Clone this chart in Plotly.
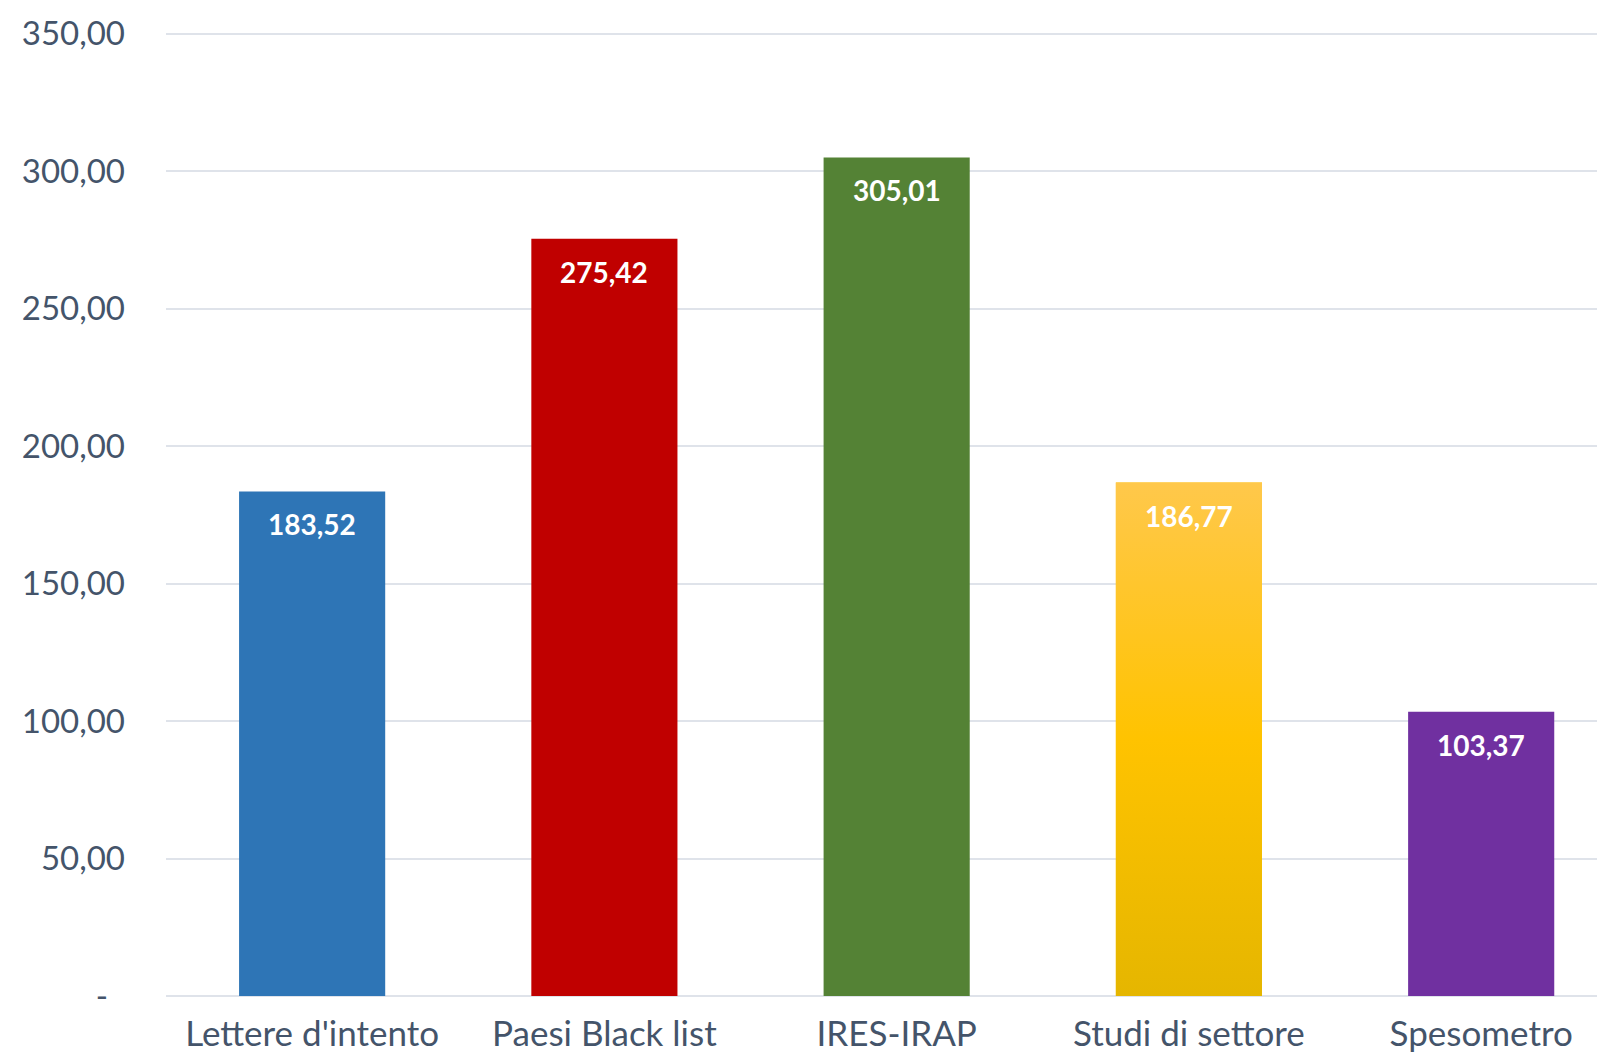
import plotly.graph_objects as go

categories = ["Lettere d'intento", "Paesi Black list", "IRES-IRAP", "Studi di settore", "Spesometro"]
values = [183.52, 275.42, 305.01, 186.77, 103.37]
colors = ["#2E75B6", "#C00000", "#548235", "#FFC000", "#7030A0"]
tick_vals = [0, 50, 100, 150, 200, 250, 300, 350]
tick_text = ["-\u00a0\u00a0", "50,00", "100,00", "150,00", "200,00", "250,00", "300,00", "350,00"]
gradient_index = 3  # Studi di settore has gradient fill

FONT = "Lato"
TXT = "#44546A"

def fmt(v):
    return f"{v:.2f}".replace(".", ",")

idx = list(range(len(categories)))
bar_w = 0.5

fig = go.Figure()
fig.add_trace(go.Bar(
    x=idx, y=values, width=bar_w,
    marker=dict(color=colors, line=dict(width=0)),
    hoverinfo="skip", showlegend=False,
))

# gradient overlay for the yellow bar, built from its data value
gi = gradient_index
gx = [gi - bar_w / 2, gi - bar_w / 2, gi + bar_w / 2, gi + bar_w / 2, gi - bar_w / 2]
gy = [0, values[gi], values[gi], 0, 0]
fig.add_trace(go.Scatter(
    x=gx, y=gy, mode="lines", fill="toself", line=dict(width=0),
    fillgradient=dict(type="vertical", start=0, stop=values[gi],
                      colorscale=[[0, "#E5B600"], [0.5, "#FFC300"], [1, "#FFC84B"]]),
    hoverinfo="skip", showlegend=False,
))

for i, v in enumerate(values):
    fig.add_annotation(x=i, y=v, text=f"<b>{fmt(v)}</b>", showarrow=False,
                       yanchor="middle", yshift=-33,
                       font=dict(family=FONT, size=28, color="white"))

fig.update_layout(
    width=1605, height=1053,
    margin=dict(l=158, r=0, t=23, b=65),
    paper_bgcolor="white", plot_bgcolor="white",
    font=dict(family=FONT, color=TXT),
    xaxis=dict(range=[-0.5, 4.451], tickmode="array", tickvals=idx, ticktext=categories,
               showgrid=False, zeroline=False, showline=False, ticks="",
               ticklabelstandoff=14, automargin=False,
               tickfont=dict(size=35, color=TXT), fixedrange=True),
    yaxis=dict(range=[0, 351], tickmode="array", tickvals=tick_vals, ticktext=tick_text,
               showgrid=True, gridcolor="#DFE3EA", gridwidth=1.5,
               zeroline=True, zerolinecolor="#DFE3EA", zerolinewidth=1.5,
               showline=False, ticks="", ticklabelstandoff=40, automargin=False,
               tickfont=dict(size=33, color=TXT), fixedrange=True),
)

fig.write_html("out.html")
